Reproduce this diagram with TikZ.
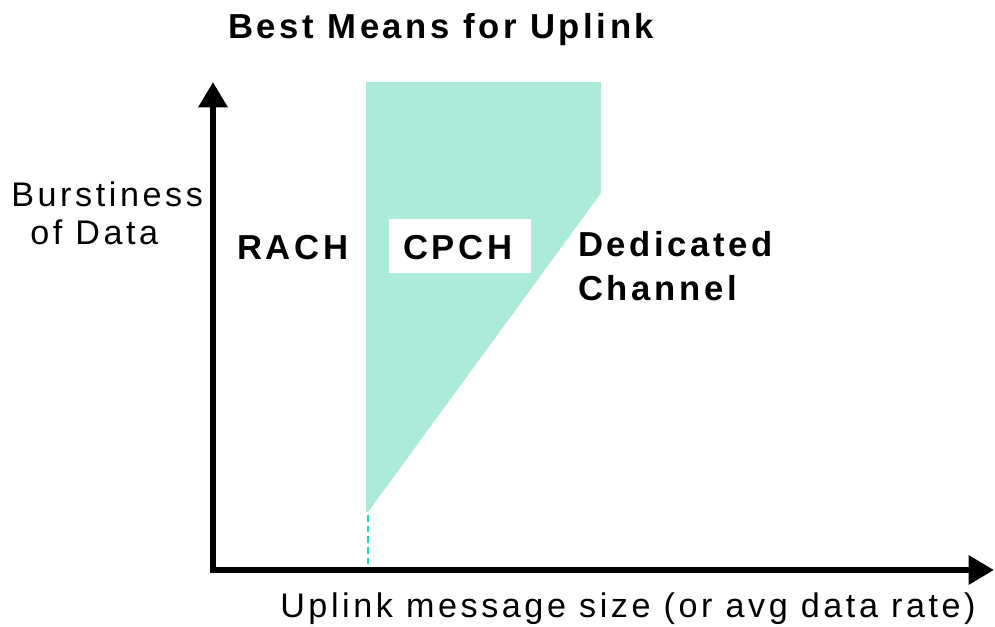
\documentclass[tikz,border=0pt]{standalone}
\usepackage{fontspec}
\setmainfont{Liberation Sans}[LetterSpace=10.5]
\usetikzlibrary{arrows.meta}
\definecolor{teallight}{RGB}{172,234,218}
\definecolor{dashc}{RGB}{30,220,180}
\begin{document}
\begin{tikzpicture}[x=0.75pt,y=-0.75pt,
  lbl/.style={inner sep=0pt,anchor=base west,font=\fontsize{25.6}{31}\selectfont},
  blbl/.style={lbl,font=\fontsize{26}{31}\selectfont\bfseries},
  axis/.style={line width=4.5pt,-{Triangle[length=19pt,width=21pt]}}]
\useasboundingbox (0,0) rectangle (995,627);
% shaded region
\fill[teallight] (366,82) -- (601,82) -- (601,193) -- (368,512) -- (366,512) -- cycle;
\draw[dashc,line width=1.2pt,dash pattern=on 5pt off 3pt] (368,515) -- (368,570);
% axes
\coordinate (O) at (213,570);
\coordinate (Ytop) at (213,82);
\coordinate (Xend) at (994,570);
\draw[axis] (O) -- (Ytop);
\draw[axis] ([xshift=-2.25pt]O) -- (Xend);
% labels
\node[blbl] (title) at (228,39) {Best Means for Uplink};
\node[lbl] (burst) at (11,207) {Burstiness};
\node[lbl] (ofdata) at (30,245) {of Data};
\node[blbl] (rach) at (237,259) {RACH};
\fill[white] (389,219) rectangle (531,273);
\node[blbl] (cpch) at (403,259) {CPCH};
\node[blbl] (ded) at (578,257) {Dedicated};
\node[blbl] (chan) at (578,300) {Channel};
\node[lbl] (xlab) at (280,617) {Uplink message size (or avg data rate)};
\end{tikzpicture}
\end{document}
